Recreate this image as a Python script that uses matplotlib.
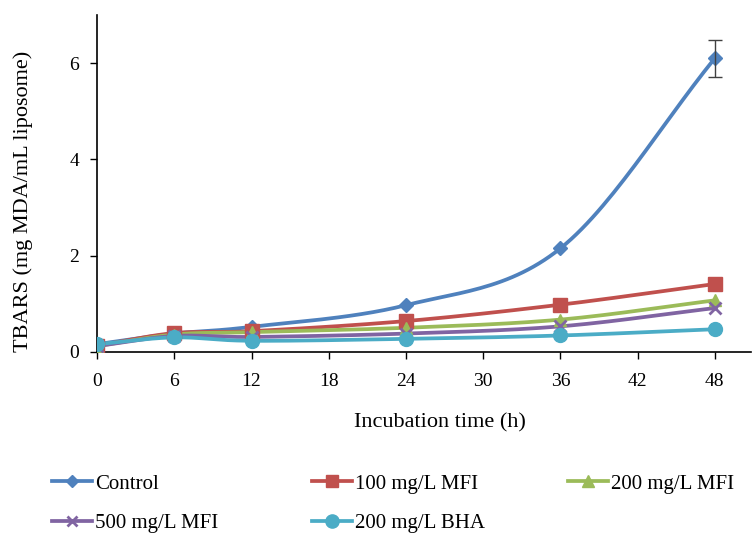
import numpy as np
import matplotlib
matplotlib.use("Agg")
import matplotlib.pyplot as plt
from matplotlib.lines import Line2D

plt.rcParams['font.family'] = ['Liberation Serif', 'DejaVu Serif']

hours = [0, 6, 12, 24, 36, 48]
control = [0.16, 0.38, 0.52, 0.97, 2.15, 6.1]
mfi_100 = [0.13, 0.39, 0.43, 0.64, 0.98, 1.41]
mfi_200 = [0.12, 0.36, 0.41, 0.50, 0.67, 1.07]
mfi_500 = [0.12, 0.33, 0.31, 0.38, 0.53, 0.91]
bha_200 = [0.16, 0.30, 0.23, 0.27, 0.34, 0.47]
control_err = [0, 0, 0, 0, 0, 0.38]

labels = ['Control', '100 mg/L MFI', '200 mg/L MFI', '500 mg/L MFI', '200 mg/L BHA']
colors = ['#4F81BD', '#C0504D', '#9BBB59', '#8064A2', '#4BACC6']
markers = ['D', 's', '^', 'x', 'o']
msizes = [7, 9.5, 9, 8, 10]


def smooth(x, y, n=30):
    # bezier smoothing through the points, like Excel's "smoothed line"
    x = np.asarray(x, float)
    y = np.asarray(y, float)
    px = np.concatenate([[2 * x[0] - x[1]], x, [2 * x[-1] - x[-2]]])
    py = np.concatenate([[2 * y[0] - y[1]], y, [2 * y[-1] - y[-2]]])
    xs, ys = [], []
    for i in range(1, len(px) - 2):
        t = np.linspace(0, 1, n)
        for arr, out in ((px, xs), (py, ys)):
            p0, p1, p2, p3 = arr[i - 1], arr[i], arr[i + 1], arr[i + 2]
            c1 = p1 + (p2 - p0) / 6
            c2 = p2 - (p3 - p1) / 6
            out.extend((1 - t) ** 3 * p1 + 3 * (1 - t) ** 2 * t * c1 + 3 * (1 - t) * t ** 2 * c2 + t ** 3 * p2)
    return np.array(xs), np.array(ys)


fig = plt.figure(figsize=(7.53, 5.38), dpi=100)
ax = fig.add_axes([0.129, 0.346, 0.868, 0.626])

series = [control, mfi_100, mfi_200, mfi_500, bha_200]
handles = []
for vals, lab, c, m, ms in zip(series, labels, colors, markers, msizes):
    sx, sy = smooth(hours, vals)
    ax.plot(sx, sy, color=c, lw=2.7, solid_capstyle='round', zorder=2)
    mew = 2 if m == 'x' else 1
    ax.plot(hours, vals, linestyle='none', marker=m, color=c, ms=ms, mew=mew, zorder=3)
    handles.append(Line2D([], [], color=c, lw=2.7, marker=m, ms=ms - 0.5, mew=mew))

ax.errorbar(hours[-1], control[-1], yerr=control_err[-1], fmt='none',
            ecolor='#404040', elinewidth=1, capsize=5, zorder=4)

ax.set_xlim(0, 50.8)
ax.set_ylim(0, 7)
ax.set_xticks([0, 6, 12, 18, 24, 30, 36, 42, 48])
ax.set_yticks([0, 2, 4, 6])
ax.spines['top'].set_visible(False)
ax.spines['right'].set_visible(False)
for s in ('left', 'bottom'):
    ax.spines[s].set_color('#000000')
    ax.spines[s].set_linewidth(1.2)
ax.tick_params(direction='out', length=5, width=1, labelsize=14)
ax.tick_params(axis='x', pad=10)
ax.tick_params(axis='y', pad=8)
ax.set_xlabel('Incubation time (h)', fontsize=16, va='center')
ax.set_ylabel('TBARS (mg MDA/mL liposome)', fontsize=16, va='center')
ax.xaxis.set_label_coords(0.525, -0.21)
ax.yaxis.set_label_coords(-0.113, 0.448)

# legend laid out row by row, three columns
cols = [[0, 3], [1, 4], [2]]
col_x = [52, 312, 568]
for idx, x0 in zip(cols, col_x):
    fig.legend([handles[i] for i in idx], [labels[i] for i in idx],
               loc='upper left', bbox_to_anchor=(x0 / 753, 1 - 474 / 538),
               frameon=False, fontsize=15, handlelength=1.9,
               handletextpad=0.15, labelspacing=0.95, borderpad=0, borderaxespad=0)

fig.savefig('out.png', dpi=100)
